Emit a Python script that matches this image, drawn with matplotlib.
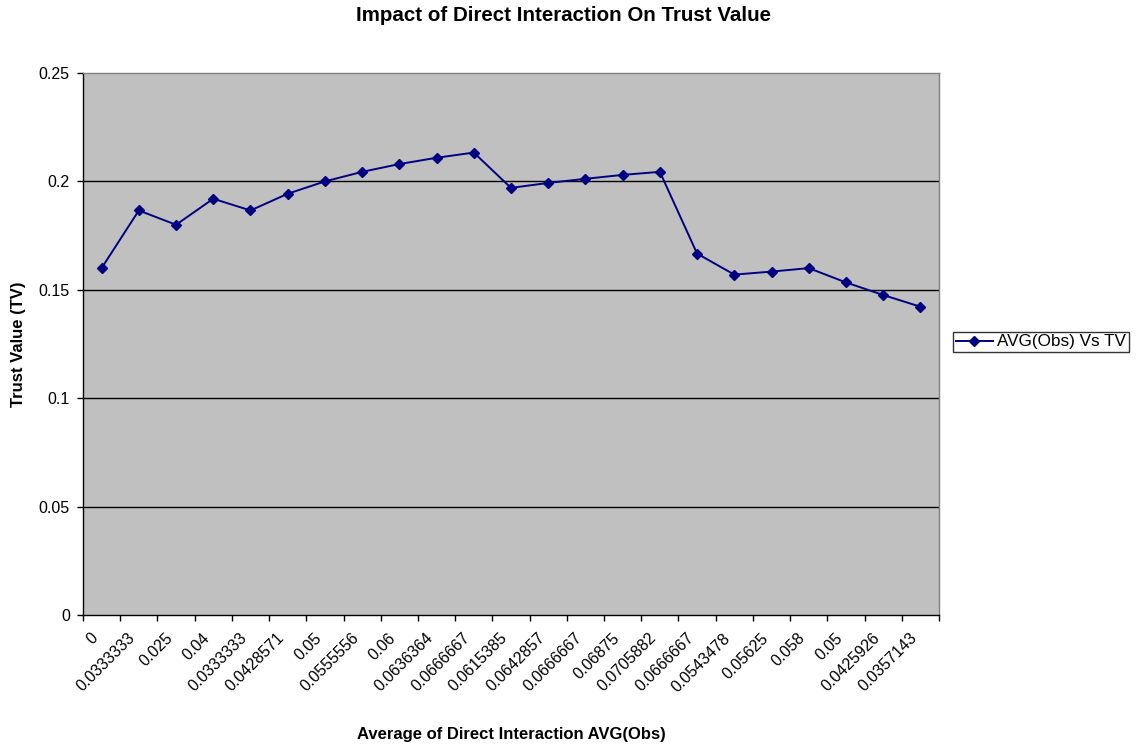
import matplotlib.pyplot as plt
import matplotlib.transforms as mtransforms
import numpy as np

plt.rcParams['font.family'] = ['Liberation Sans', 'DejaVu Sans']

# AVG(Obs) category labels and the trust value for each
avg_obs = ['0', '0.0333333', '0.025', '0.04', '0.0333333', '0.0428571', '0.05',
           '0.0555556', '0.06', '0.0636364', '0.0666667', '0.0615385', '0.0642857',
           '0.0666667', '0.06875', '0.0705882', '0.0666667', '0.0543478', '0.05625',
           '0.058', '0.05', '0.0425926', '0.0357143']
trust_value = [0.16, 0.1866, 0.18, 0.192, 0.1866, 0.1943, 0.2, 0.2044, 0.208,
               0.2109, 0.2133, 0.197, 0.1993, 0.2012, 0.203, 0.2044, 0.1667,
               0.157, 0.1584, 0.16, 0.1534, 0.1476, 0.1422]
y_ticks = [0, 0.05, 0.1, 0.15, 0.2, 0.25]
y_tick_labels = ['0', '0.05', '0.1', '0.15', '0.2', '0.25']

W, H = 1142, 744
fig = plt.figure(figsize=(W / 100, H / 100), dpi=100)
# plot area in pixels: x 83..939, y 73..615
ax = fig.add_axes([83 / W, 1 - 615 / H, (939 - 83) / W, (615 - 73) / H])
ax.set_facecolor('#c0c0c0')

x = np.arange(len(avg_obs))
ax.plot(x, trust_value, color='#000080', lw=1.4, marker='D', markersize=5,
        label='AVG(Obs) Vs TV', zorder=3)

ax.set_xlim(-0.5, len(avg_obs) - 0.5)
ax.set_ylim(0, 0.25)

# y axis with black gridlines
ax.set_yticks(y_ticks)
ax.set_yticklabels(y_tick_labels, fontsize=11.5)
for v in y_ticks[1:-1]:
    ax.axhline(v, color='black', lw=1, zorder=1)
ax.tick_params(axis='y', direction='out', length=4.5, width=1, pad=5)

# category axis: tick marks between categories, labels at centres
ax.set_xticks(x)
ax.set_xticklabels(avg_obs, rotation=45, ha='right', va='center',
                   rotation_mode='anchor', fontsize=11.5)
ax.tick_params(axis='x', which='major', length=0, pad=15)
shift = mtransforms.ScaledTranslation(-0.06, 0, fig.dpi_scale_trans)
for lbl in ax.get_xticklabels():
    lbl.set_transform(lbl.get_transform() + shift)
ax.set_xticks(np.arange(-0.5, len(avg_obs)), minor=True)
ax.tick_params(axis='x', which='minor', direction='out', length=4, width=1)

for side in ['left', 'bottom']:
    ax.spines[side].set_color('black')
    ax.spines[side].set_linewidth(1)
for side in ['top', 'right']:
    ax.spines[side].set_color('#808080')
    ax.spines[side].set_linewidth(1)

fig.text(564 / W, 1 - 21 / H, 'Impact of Direct Interaction On Trust Value',
         fontsize=14.8, fontweight='bold', ha='center', va='baseline')
fig.text(511 / W, 1 - 739 / H, 'Average of Direct Interaction AVG(Obs)',
         fontsize=12, fontweight='bold', ha='center', va='baseline')
fig.text(19 / W, 1 - 344 / H, 'Trust Value (TV)', fontsize=12,
         fontweight='bold', ha='center', va='center', rotation=90)

leg = ax.legend(loc='center left', bbox_to_anchor=(1.0164, 0.5037), fontsize=12.3,
                frameon=True, fancybox=False, edgecolor='black', borderaxespad=0,
                handlelength=2.2, borderpad=0.15, handletextpad=0.25)
leg.get_frame().set_linewidth(1)

fig.savefig('out.png', dpi=100)
